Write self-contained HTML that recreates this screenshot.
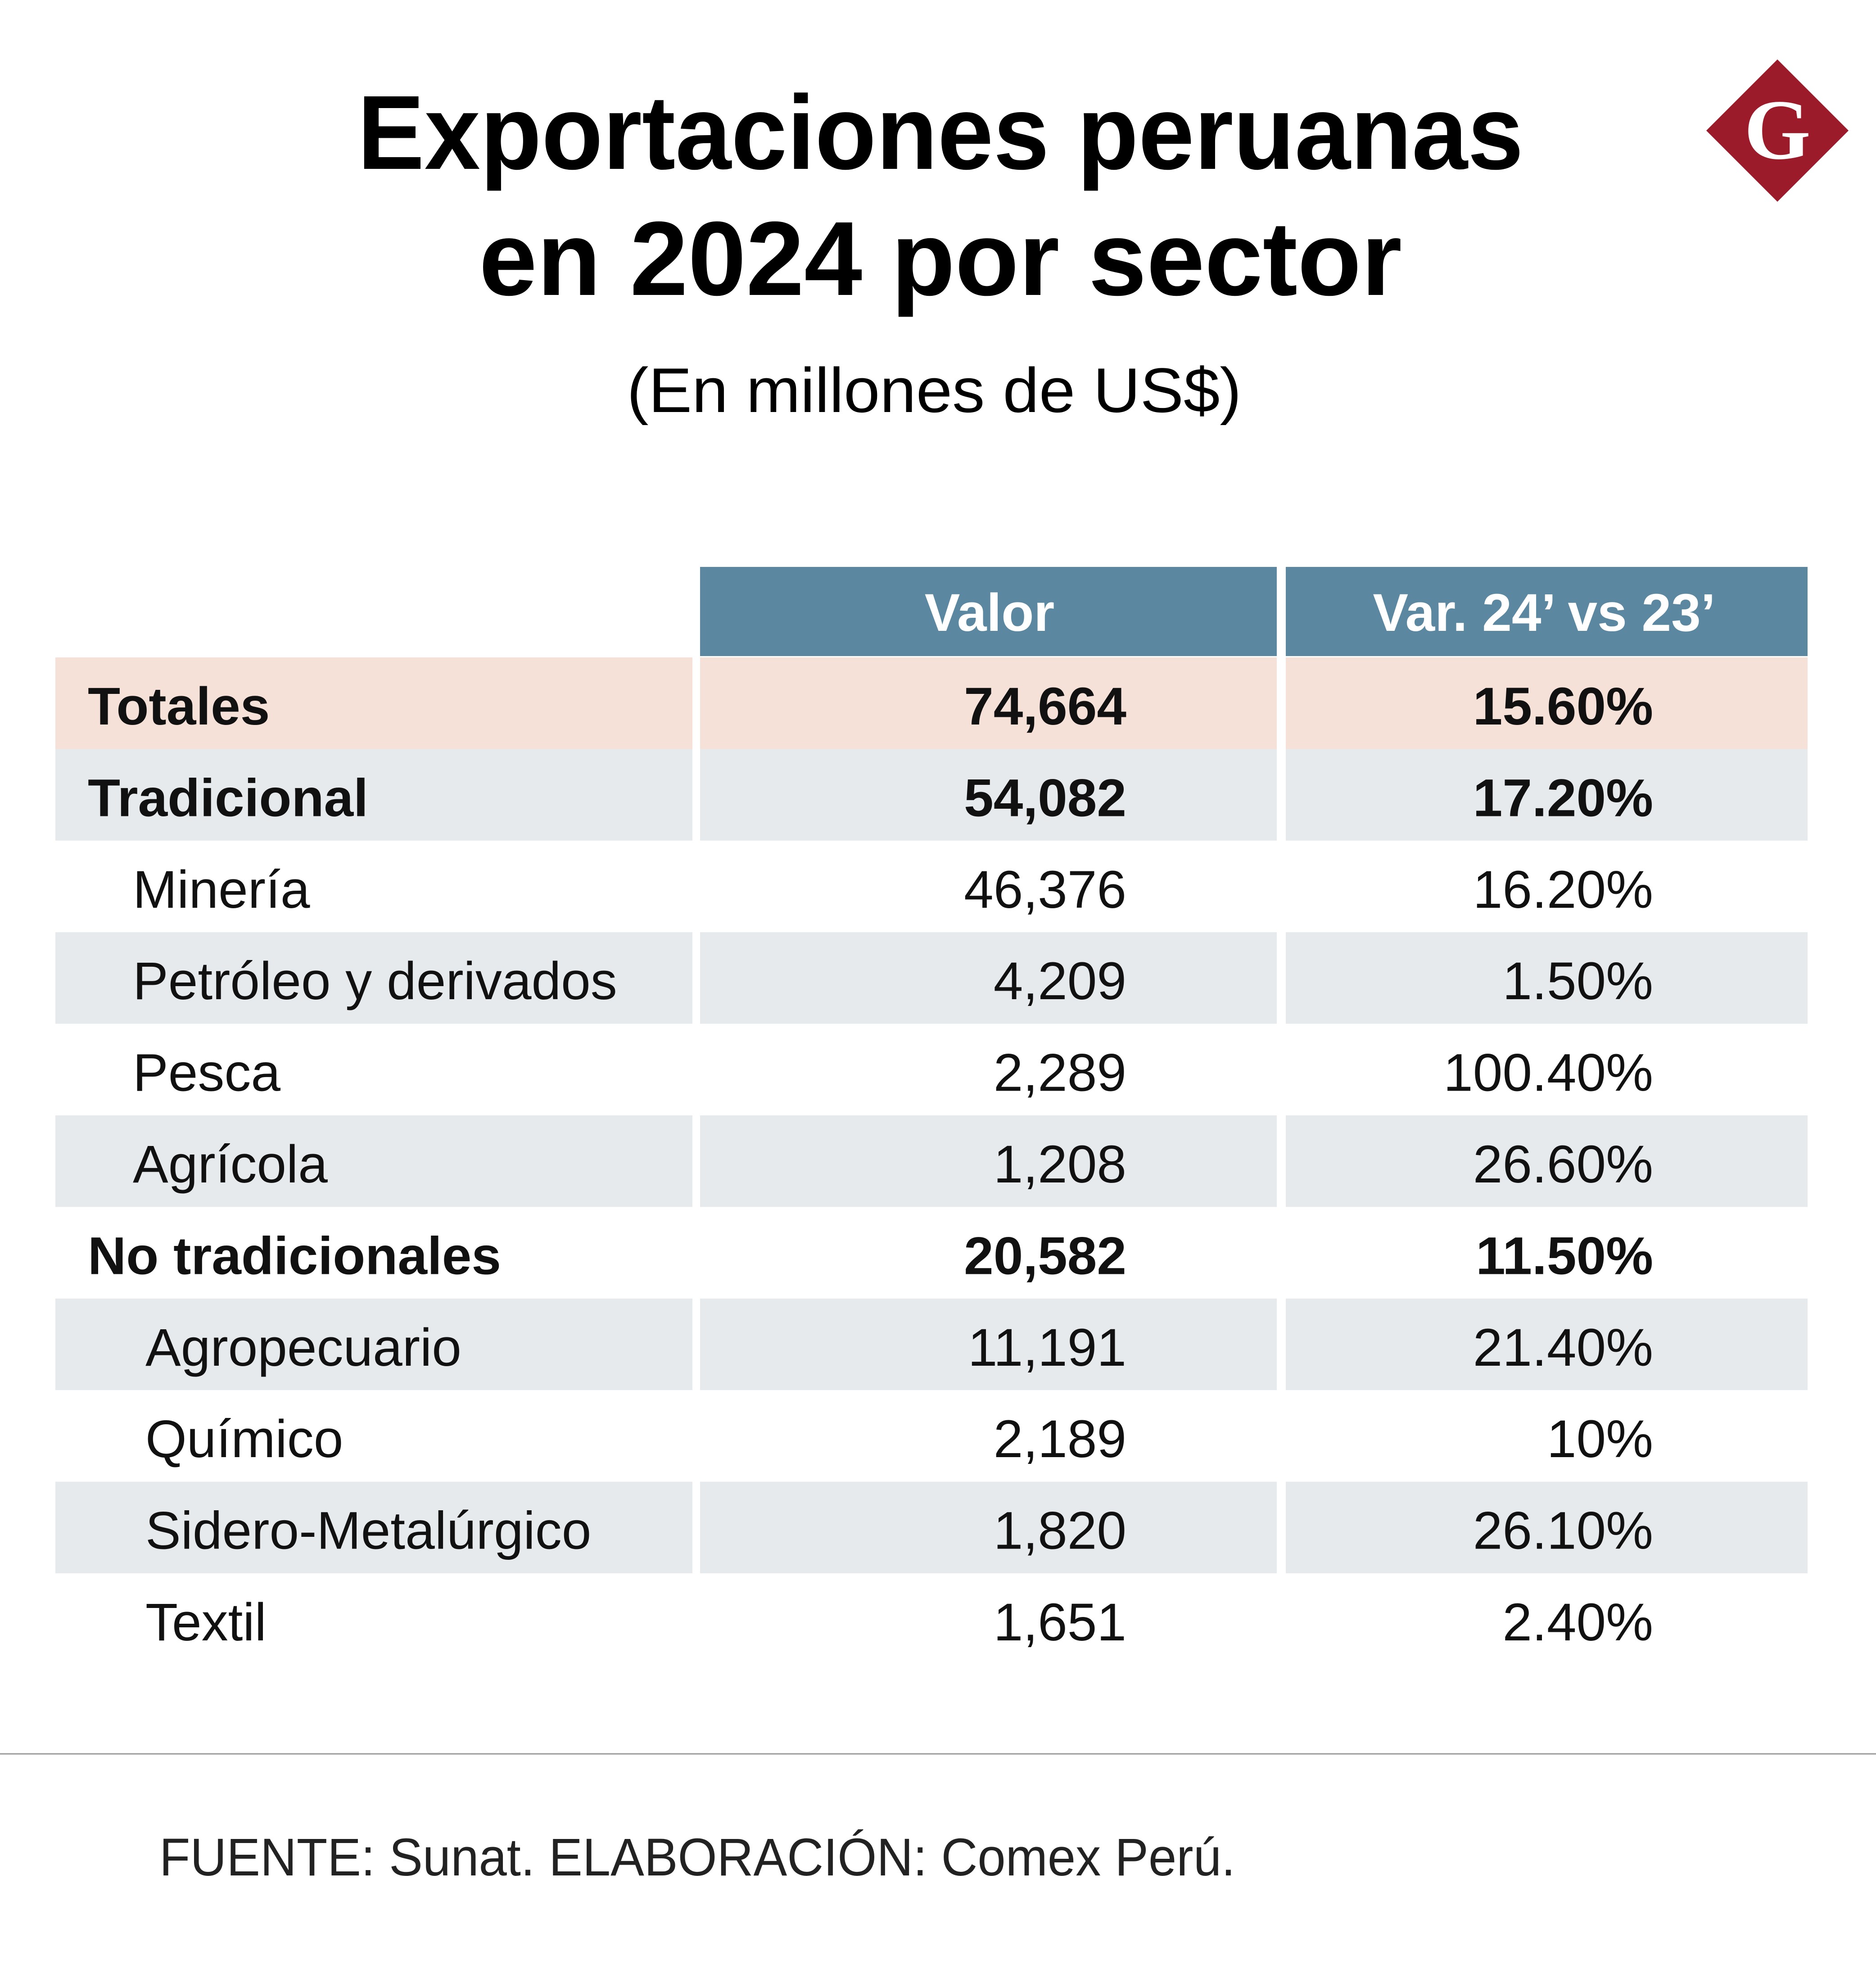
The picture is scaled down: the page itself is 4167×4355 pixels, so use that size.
<!DOCTYPE html>
<html><head><meta charset="utf-8">
<style>
html,body{margin:0;padding:0;background:#fff;}
svg{display:block;font-family:"Liberation Sans",sans-serif;}
</style></head>
<body>
<svg id="chart" width="4167" height="4355" viewBox="0 0 4167 4355" xmlns="http://www.w3.org/2000/svg">
<rect width="4167" height="4355" fill="#fff"/>
<text x="2089" y="375" text-anchor="middle" font-size="234" font-weight="bold" fill="#000" textLength="2590" lengthAdjust="spacingAndGlyphs">Exportaciones peruanas</text>
<text x="2089" y="655" text-anchor="middle" font-size="234" font-weight="bold" fill="#000" textLength="2050" lengthAdjust="spacingAndGlyphs">en 2024 por sector</text>
<text x="2075" y="915" text-anchor="middle" font-size="140" fill="#000" textLength="1365" lengthAdjust="spacingAndGlyphs">(En millones de US$)</text>
<g>
<polygon points="3948,132 4106,290 3948,448 3790,290" fill="#9b1b2a"/>
<text x="3948" y="352" text-anchor="middle" font-family="Liberation Serif,serif" font-size="190" font-weight="bold" fill="#fff">G</text>
</g>
<rect x="1555" y="1259" width="1281" height="198" fill="#5b87a0"/>
<rect x="2856" y="1259" width="1159" height="198" fill="#5b87a0"/>
<text x="2198" y="1401" text-anchor="middle" font-size="118" font-weight="bold" fill="#fff">Valor</text>
<text x="3430" y="1401" text-anchor="middle" font-size="118" font-weight="bold" fill="#fff">Var. 24’ vs 23’</text>
<g id="rows"></g>
<line x1="0" y1="3895" x2="4167" y2="3895" stroke="#9a9a9a" stroke-width="3"/>
<text x="354" y="4165" font-size="118" fill="#222" textLength="2390" lengthAdjust="spacingAndGlyphs">FUENTE: Sunat. ELABORACIÓN: Comex Perú.</text>
</svg>
<script>
const labels = ["Totales","Tradicional","Minería","Petróleo y derivados","Pesca","Agrícola","No tradicionales","Agropecuario","Químico","Sidero-Metalúrgico","Textil"];
const values = ["74,664","54,082","46,376","4,209","2,289","1,208","20,582","11,191","2,189","1,820","1,651"];
const variations = ["15.60%","17.20%","16.20%","1.50%","100.40%","26.60%","11.50%","21.40%","10%","26.10%","2.40%"];
const levels = [0,0,1,1,1,1,0,2,2,2,2];
const fills = ["#f6e1d8","#e7eaed","#fff","#e7eaed","#fff","#e7eaed","#fff","#e7eaed","#fff","#e7eaed","#fff"];
const g = document.getElementById('rows');
const NS = "http://www.w3.org/2000/svg";
const rowH = 203.4, top0 = 1460;
const indent = [195,295,323];
labels.forEach((lab,i)=>{
  const y = top0 + i*rowH;
  const row = document.createElementNS(NS,'g');
  
  
  [[123,1415],[1555,1281],[2856,1159]].forEach(([x,w])=>{
    const r = document.createElementNS(NS,'rect');
    
    
    r.setAttribute('x',x); r.setAttribute('y',y); r.setAttribute('width',w); r.setAttribute('height',rowH+0.5);
    r.setAttribute('fill',fills[i]);
    row.appendChild(r);
  });
  const bold = levels[i]===0;
  const mk = (txt,x,anchor,name)=>{
    const t = document.createElementNS(NS,'text');
    
    
    t.setAttribute('x',x); t.setAttribute('y',y+149);
    t.setAttribute('text-anchor',anchor);
    t.setAttribute('font-size','118');
    if(bold) t.setAttribute('font-weight','bold');
    t.setAttribute('fill','#111');
    t.textContent = txt;
    row.appendChild(t);
  };
  mk(lab, indent[levels[i]], 'start', 'sector-label');
  mk(values[i], 2502, 'end', 'sector-value');
  mk(variations[i], 3672, 'end', 'sector-variation');
  g.appendChild(row);
});
</script>
</body></html>
